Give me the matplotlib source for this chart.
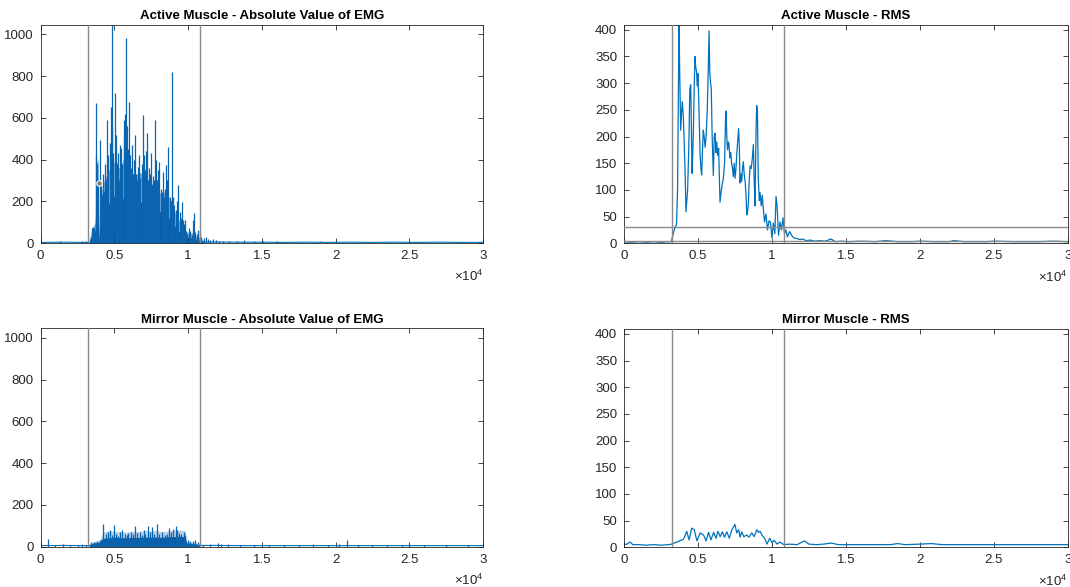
import matplotlib
matplotlib.use("Agg")
import matplotlib.pyplot as plt
import numpy as np

plt.rcParams['font.family'] = ['Liberation Sans', 'DejaVu Sans']
plt.rcParams['mathtext.fontset'] = 'custom'
plt.rcParams['mathtext.rm'] = 'Liberation Sans'

# ---------------- data ----------------
onset_x = 3225
offset_x = 10820
rms_thresholds = [30, 4]

xtick_vals = [0, 5000, 10000, 15000, 20000, 25000, 30000]
xtick_labels = ["0", "0.5", "1", "1.5", "2", "2.5", "3"]
emg_yticks = [0, 200, 400, 600, 800, 1000]
rms_yticks = [0, 50, 100, 150, 200, 250, 300, 350, 400]

# Active muscle |EMG|: individual spikes
active_spike_x = [1300, 2800, 3100, 3480, 3560, 3650, 3730, 3780, 3830, 3880, 4020, 4080, 4150, 4230,
                  4300, 4380, 4450, 4520, 4600, 4680, 4770, 4830, 4870, 4940, 5040, 5100, 5170,
                  5240, 5320, 5400, 5470, 5550, 5620, 5670, 5740, 5790, 5860, 5920, 5990, 6060,
                  6120, 6170, 6240, 6320, 6400, 6460, 6540, 6620, 6700, 6760, 6840, 6920, 6990,
                  7060, 7120, 7190, 7260, 7330, 7400, 7460, 7530, 7600, 7680, 7780, 7840, 7920,
                  7980, 8050, 8130, 8200, 8300, 8380, 8450, 8520, 8600, 8660, 8740, 8820, 8900,
                  8970, 9060, 9150, 9240, 9340, 9420, 9500, 9560, 9650, 9720, 9790, 9870, 9950,
                  10050, 10150, 10250, 10330, 10420, 10500, 10600, 10700, 10800, 10900, 11050,
                  11200, 11350, 11500, 11700, 11900, 12100, 12400, 12800, 13300, 13800, 14500,
                  15100, 16000, 17500, 19000, 20500, 22000, 23500, 25000, 27000, 28500, 29800]
active_spike_h = [8, 12, 8, 70, 75, 70, 669, 420, 380, 300, 493, 280, 230, 330,
                  250, 380, 300, 589, 420, 480, 653, 560, 1045, 430, 717, 520, 380,
                  430, 300, 470, 454, 380, 520, 589, 620, 981, 560, 450, 677, 420,
                  360, 470, 330, 400, 517, 330, 300, 366, 420, 310, 380, 613, 420,
                  350, 440, 525, 300, 360, 330, 430, 280, 320, 300, 589, 400, 300,
                  350, 390, 260, 240, 342, 220, 260, 374, 300, 462, 220, 200, 821,
                  220, 180, 160, 200, 278, 150, 120, 198, 110, 90, 110, 60, 45,
                  70, 60, 40, 110, 142, 55, 45, 62, 58, 30, 25,
                  30, 20, 15, 18, 15, 12, 12, 12, 10, 14, 10,
                  8, 8, 7, 8, 6, 7, 6, 6, 6, 6, 6]
# Active muscle |EMG|: dense core (dark) and its lighter fringe
active_core_x = [3300, 3500, 3700, 3750, 3900, 3950, 4050, 4150, 4300, 4500, 4700, 4900, 5100, 5300,
                 5500, 5700, 5900, 6100, 6300, 6500, 6700, 6900, 7100, 7300, 7500, 7700, 7900,
                 8100, 8300, 8500, 8700, 8900, 9100, 9300, 9500, 9700, 9900, 10100, 10300,
                 10500, 10700, 10900, 11100]
active_core_h = [10, 40, 60, 250, 280, 20, 60, 130, 160, 170, 200, 220, 230, 220,
                 200, 230, 220, 180, 170, 180, 200, 190, 200, 180, 170, 170, 160,
                 150, 140, 130, 120, 110, 80, 60, 50, 40, 30, 25, 25,
                 20, 15, 10, 5]
active_fringe_h = [20, 70, 100, 380, 400, 40, 150, 250, 300, 330, 360, 380, 400, 360,
                   380, 420, 360, 320, 300, 330, 340, 330, 320, 300, 280, 300, 260,
                   240, 250, 230, 220, 200, 150, 120, 90, 70, 55, 45, 50,
                   35, 30, 20, 10]
baseline_x = [0, 1500, 3000, 4500, 6000, 7500, 9000, 10500, 12000, 13500, 15000, 16500, 18000,
              19500, 21000, 22500, 24000, 25500, 27000, 28500, 30000]
active_base_h = [3, 4, 3, 4, 4, 4, 4, 5, 5, 4, 4, 3, 4, 3, 4, 3, 4, 3, 4, 3, 3]
mirror_base_h = [5, 6, 5, 6, 6, 6, 6, 6, 6, 5, 5, 5, 5, 5, 5, 5, 5, 5, 5, 5, 5]

# Mirror muscle |EMG|
mirror_spike_x = [470, 1000, 1500, 2000, 2500, 2800, 3100, 3400, 3600, 3800, 4000, 4250, 4400,
                  4550, 4700, 4820, 4950, 5100, 5250, 5400, 5550, 5700, 5850, 5950, 6100, 6250,
                  6400, 6550, 6750, 6850, 7000, 7100, 7250, 7400, 7550, 7700, 7900, 8050, 8250,
                  8400, 8550, 8700, 8850, 9000, 9150, 9250, 9400, 9550, 9700, 9800, 10000,
                  10150, 10300, 10500, 10700, 11000, 11500, 12000, 12200, 12700, 13500, 14500,
                  15500, 16500, 17500, 18500, 19500, 20200, 20750, 21500, 22500, 23500, 24500,
                  25000, 26000, 27500, 29000]
mirror_spike_h = [38, 10, 12, 8, 10, 12, 10, 20, 22, 25, 30, 107, 60,
                  70, 80, 55, 103, 60, 50, 70, 80, 60, 55, 64, 70, 60,
                  100, 65, 72, 55, 80, 60, 100, 70, 95, 60, 107, 60, 72,
                  55, 60, 88, 70, 85, 100, 80, 64, 60, 72, 55, 30,
                  28, 25, 30, 20, 10, 12, 18, 15, 12, 10, 10,
                  10, 8, 8, 12, 10, 12, 30, 10, 10, 8, 8,
                  12, 8, 8, 8]
mirror_core_x = [3300, 3600, 4000, 4200, 4600, 5000, 5400, 5800, 6200, 6600, 7000, 7400, 7800,
                 8200, 8600, 9000, 9400, 9800, 9900, 10200, 10500, 10800]
mirror_core_h = [10, 18, 22, 40, 42, 45, 44, 42, 45, 44, 46, 45, 46,
                 45, 47, 48, 50, 48, 18, 16, 14, 8]
mirror_fringe_h = [15, 25, 30, 70, 75, 75, 72, 70, 75, 72, 78, 75, 78,
                   72, 75, 78, 80, 75, 25, 22, 20, 10]

# Active muscle RMS
active_rms_x = [0, 500, 1000, 1500, 2000, 2500, 3000, 3200, 3300, 3450, 3550, 3620, 3680, 3720,
                3760, 3830, 3900, 3945, 4010, 4080, 4120, 4190, 4250, 4300, 4380, 4450, 4510,
                4560, 4600, 4650, 4690, 4750, 4800, 4850, 4910, 4950, 5000, 5070, 5140, 5200,
                5250, 5300, 5360, 5420, 5480, 5550, 5630, 5700, 5750, 5800, 5850, 5900, 5960,
                6040, 6100, 6160, 6220, 6270, 6330, 6400, 6490, 6560, 6640, 6720, 6800, 6870,
                6900, 6950, 7000, 7060, 7100, 7160, 7220, 7280, 7340, 7390, 7450, 7510, 7570,
                7620, 7680, 7750, 7800, 7840, 7900, 7960, 8010, 8070, 8130, 8190, 8250, 8300,
                8360, 8410, 8470, 8530, 8600, 8680, 8745, 8800, 8860, 8920, 8970, 9020, 9080,
                9150, 9200, 9280, 9350, 9420, 9500, 9600, 9700, 9800, 9900, 10000, 10100,
                10200, 10280, 10350, 10450, 10550, 10650, 10750, 10850, 10950, 11050, 11200,
                11350, 11500, 11700, 11900, 12100, 12300, 12600, 12900, 13200, 13600, 14000,
                14300, 14700, 15200, 16000, 17000, 17700, 18500, 19500, 20000, 21000, 22000,
                22300, 23000, 24500, 25000, 26500, 28000, 29000, 30000]
active_rms_y = [3, 2, 3, 2, 3, 2, 3, 3, 15, 30, 35, 100, 300, 420,
                330, 212, 250, 265, 237, 180, 144, 59, 80, 100, 180, 290, 297,
                200, 131, 170, 212, 300, 350, 330, 320, 295, 318, 250, 169, 140,
                128, 170, 212, 200, 180, 200, 250, 330, 398, 320, 300, 290, 200,
                127, 200, 206, 170, 190, 165, 178, 77, 95, 110, 122, 150, 240,
                248, 200, 175, 190, 185, 160, 170, 148, 140, 125, 150, 122, 140,
                166, 190, 215, 180, 113, 130, 116, 140, 153, 128, 116, 90, 53,
                60, 76, 122, 145, 140, 160, 185, 120, 70, 200, 258, 250, 120,
                80, 95, 70, 90, 65, 40, 55, 25, 42, 40, 10, 38,
                18, 88, 70, 15, 40, 25, 48, 18, 25, 12, 22,
                14, 10, 9, 7, 8, 5, 6, 4, 5, 4, 8,
                3, 4, 3, 4, 3, 5, 3, 3, 4, 3, 3,
                5, 3, 3, 4, 3, 3, 4, 3]

# Mirror muscle RMS
mirror_rms_x = [0, 200, 400, 600, 1000, 1500, 2000, 2500, 3000, 3230, 3570, 4020, 4240, 4400,
                4580, 4750, 4930, 5150, 5380, 5550, 5710, 5880, 6060, 6220, 6350, 6500, 6650,
                6800, 6950, 7120, 7300, 7500, 7620, 7750, 7850, 7960, 8100, 8300, 8450, 8640,
                8800, 8980, 9100, 9200, 9350, 9510, 9670, 9850, 10000, 10150, 10350, 10530,
                10810, 11200, 11700, 12200, 12500, 13000, 13500, 14000, 14500, 15000, 16000,
                17000, 18000, 18500, 19000, 20000, 20800, 21500, 22500, 23500, 24500, 25500,
                26500, 27500, 28500, 29500, 30000]
mirror_rms_y = [5, 6, 10, 5, 5, 4, 5, 4, 5, 6, 10, 15, 30, 14,
                36, 33, 12, 27, 23, 12, 28, 14, 28, 17, 30, 20, 29,
                19, 29, 17, 33, 43, 27, 33, 19, 29, 20, 23, 19, 27,
                20, 33, 28, 30, 22, 17, 6, 17, 9, 13, 6, 10,
                5, 6, 5, 12, 6, 5, 6, 8, 5, 5, 5,
                5, 5, 7, 5, 6, 7, 5, 5, 5, 5, 5,
                5, 5, 5, 5, 5]

# data tip marker on the active |EMG| trace
datatip_x = [3950]
datatip_y = [290]

# ---------------- styling ----------------
BLUE = '#0072BD'
CORE = '#0A5EA8'
FRINGE = '#7FAFD9'
FRINGE_LIGHT = '#B9D3EA'
SPIKE = '#0B64AF'
GRAY = '#8a8a8a'
INK = '#262626'

fig = plt.figure(figsize=(10.70, 5.87), dpi=100)
ax_ae = fig.add_axes([0.0380, 0.5860, 0.4134, 0.3714])
ax_ar = fig.add_axes([0.5832, 0.5855, 0.4146, 0.3719])
ax_me = fig.add_axes([0.0380, 0.0687, 0.4134, 0.3720])
ax_mr = fig.add_axes([0.5832, 0.0676, 0.4146, 0.3719])


def style(ax, title, yticks, ymax):
    ax.set_xlim(0, 30000)
    ax.set_ylim(0, ymax)
    ax.set_xticks(xtick_vals)
    ax.set_xticklabels(xtick_labels)
    ax.set_yticks(yticks)
    ax.set_yticklabels([str(v) for v in yticks])
    ax.tick_params(direction='in', top=True, right=True, length=3.5, width=0.6,
                   colors=INK, labelsize=9.5, pad=5)
    for s in ax.spines.values():
        s.set_color(INK)
        s.set_linewidth(0.6)
    ax.set_title(title, fontsize=9.5, fontweight='bold', color='black', pad=4)
    ax.text(1.0, -0.12, r'$\times\mathregular{10^4}$', transform=ax.transAxes,
            ha='right', va='top', fontsize=9.5, color=INK)
    ax.axvline(onset_x, color=GRAY, lw=1.0, zorder=4)
    ax.axvline(offset_x, color=GRAY, lw=1.0, zorder=4)


# Active |EMG|
ax_ae.plot(baseline_x, active_base_h, color=BLUE, lw=0.8)
ax_ae.fill_between(active_core_x, 0, active_fringe_h, color=FRINGE, lw=0)
ax_ae.vlines(active_spike_x, 0, active_spike_h, color=SPIKE, lw=0.9)
ax_ae.fill_between(active_core_x, 0, active_core_h, color=CORE, lw=0)
ax_ae.plot(datatip_x, datatip_y, 'o', ms=4, mfc='#7d7d6a', mec='white', mew=0.8, zorder=5)
style(ax_ae, 'Active Muscle - Absolute Value of EMG', emg_yticks, 1045)

# Active RMS
ax_ar.plot(active_rms_x, active_rms_y, color=BLUE, lw=0.9)
for t in rms_thresholds:
    ax_ar.axhline(t, color=GRAY, lw=1.0, zorder=4)
style(ax_ar, 'Active Muscle - RMS', rms_yticks, 409)

# Mirror |EMG|
ax_me.plot(baseline_x, mirror_base_h, color=BLUE, lw=0.8)
ax_me.fill_between(mirror_core_x, 0, mirror_fringe_h, color=FRINGE_LIGHT, lw=0)
ax_me.vlines(mirror_spike_x, 0, mirror_spike_h, color=SPIKE, lw=0.9)
ax_me.fill_between(mirror_core_x, 0, mirror_core_h, color=CORE, lw=0)
style(ax_me, 'Mirror Muscle - Absolute Value of EMG', emg_yticks, 1045)

# Mirror RMS
ax_mr.plot(mirror_rms_x, mirror_rms_y, color=BLUE, lw=0.9)
style(ax_mr, 'Mirror Muscle - RMS', rms_yticks, 409)

fig.savefig('out.png', dpi=100)
